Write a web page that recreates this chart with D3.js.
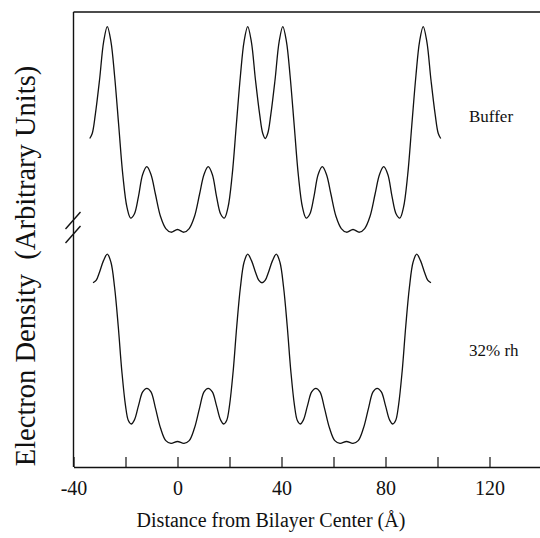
<!DOCTYPE html>
<html lang="en">
<head>
  <meta charset="UTF-8">
  <title>Electron Density Profiles</title>
  <script src="https://d3js.org/d3.v7.min.js"></script>
  <style>
    body { margin: 0; background: #fff; }
    text { font-family: "Liberation Serif", "Times New Roman", serif; fill: #111; }
  </style>
</head>
<body>
  <svg id="chart" width="540" height="538"></svg>
  <script>
    // Buffer profile (distance in Å, density in arbitrary units)
    const bufferDist = [
      -33.75, -32.8, -31.6, -30, -28.4, -27, -25.6, -24.2, -22.6, -21, -19.4, -18, -16.6, -15, -13.4, -11.8,
      -10.2, -8.5, -6.5, -4.5, -2.5, 0, 2.5, 4.5, 6.5, 8.5, 10.2, 11.8, 13.4, 15, 16.6, 18, 19.4, 21, 22.6,
      24.2, 25.6, 27, 28.4, 30, 31.6, 32.8, 33.75, 34.7, 35.9, 37.5, 39.1, 40.5, 41.9, 43.3, 44.9, 46.5,
      48.1, 49.5, 50.9, 52.5, 54.1, 55.7, 57.3, 59, 61, 63, 65, 67.5, 70, 72, 74, 76, 77.7, 79.3, 80.9,
      82.5, 84.1, 85.5, 86.9, 88.5, 90.1, 91.7, 93.1, 94.5, 95.9, 97.5, 99.1, 100.3, 101.25
    ];
    const bufferDensity = [
      72.2, 73.3, 77.5, 85, 93.5, 96.8, 93.5, 86, 75, 64, 57, 54.7, 55.6, 59.5, 64.3, 66,
      64.3, 60, 55, 52.4, 51.6, 52.2, 51.6, 52.4, 55, 60, 64.3, 66, 64.3, 59.5, 55.6, 54.7, 57, 64, 75,
      86, 93.5, 96.8, 93.5, 85, 77.5, 73.3, 72.2, 73.3, 77.5, 85, 93.5, 96.8, 93.5, 86, 75, 64,
      57, 54.7, 55.6, 59.5, 64.3, 66, 64.3, 60, 55, 52.4, 51.6, 52.2, 51.6, 52.4, 55, 60, 64.3, 66, 64.3,
      59.5, 55.6, 54.7, 57, 64, 75, 86, 93.5, 96.8, 93.5, 85, 77.5, 73.3, 72.2
    ];

    // 32% rh profile
    const rhDist = [
      -32.5, -31.3, -30, -28.5, -27, -25.6, -24.2, -22.8, -21.4, -20, -18.9, -17.8, -16.6, -15, -13.4, -11.8,
      -10.2, -8.5, -6.5, -4.5, -2.5, 0, 2.5, 4.5, 6.5, 8.5, 10.2, 11.8, 13.4, 15, 16.6, 17.8, 18.9, 20, 21.4,
      22.8, 24.2, 25.6, 27, 28.5, 30, 31.3, 32.5, 33.7, 35, 36.5, 38, 39.4, 40.8, 42.2, 43.6, 45, 46.1,
      47.2, 48.4, 50, 51.6, 53.2, 54.8, 56.5, 58.5, 60.5, 62.5, 65, 67.5, 69.5, 71.5, 73.5, 75.2, 76.8,
      78.4, 80, 81.6, 82.8, 83.9, 85, 86.4, 87.8, 89.2, 90.6, 92, 93.5, 95, 96.3, 97.5
    ];
    const rhDensity = [
      40.5, 41, 42.8, 45.3, 46.8, 45, 39.5, 31, 21, 13.5, 10.2, 9.45, 10.3, 13.5, 16.5, 17.3,
      16.5, 13, 8.5, 5.8, 5.2, 5.6, 5.2, 5.8, 8.5, 13, 16.5, 17.3, 16.5, 13.5, 10.3, 9.45, 10.2, 13.5, 21,
      31, 39.5, 45, 46.8, 45.3, 42.8, 41, 40.5, 41, 42.8, 45.3, 46.8, 45, 39.5, 31, 21, 13.5, 10.2,
      9.45, 10.3, 13.5, 16.5, 17.3, 16.5, 13, 8.5, 5.8, 5.2, 5.6, 5.2, 5.8, 8.5, 13, 16.5, 17.3,
      16.5, 13.5, 10.3, 9.45, 10.2, 13.5, 21, 31, 39.5, 45, 46.8, 45.3, 42.8, 41, 40.5
    ];

    const xTicks = [-40, -20, 0, 20, 40, 60, 80, 100, 120, 140];
    const xLabels = [-40, 0, 40, 80, 120];
    const seriesLabels = ["Buffer", "32% rh"];

    const svg = d3.select("#chart");

    const x = d3.scaleLinear().domain([-40, 140]).range([73.5, 541.5]);
    const y = d3.scaleLinear().domain([0, 100]).range([467, 12]);

    // bottom axis, ticks pointing up
    const xAxis = svg.append("g")
      .attr("transform", `translate(0,${y(0)})`)
      .call(d3.axisBottom(x)
        .tickValues(xTicks)
        .tickSizeInner(-10)
        .tickSizeOuter(0)
        .tickPadding(14)
        .tickFormat(d => xLabels.includes(d) ? d : ""));
    xAxis.select(".domain").attr("stroke", "#111").attr("stroke-width", 1.4);
    xAxis.selectAll(".tick line").attr("stroke", "#111").attr("stroke-width", 1.2);
    xAxis.selectAll(".tick text")
      .attr("font-size", 20)
      .attr("font-family", "Liberation Serif, serif")
      .attr("fill", "#111");

    // top frame line
    svg.append("line")
      .attr("x1", x(-40)).attr("x2", x(140))
      .attr("y1", y(100)).attr("y2", y(100))
      .attr("stroke", "#111").attr("stroke-width", 1.4);

    // left axis line
    svg.append("line")
      .attr("x1", x(-40)).attr("x2", x(-40))
      .attr("y1", y(0)).attr("y2", y(100))
      .attr("stroke", "#111").attr("stroke-width", 1.4);

    // axis break marks
    [[229, 212], [243, 226]].forEach(([y1, y2]) => {
      svg.append("line")
        .attr("x1", x(-40) - 8).attr("y1", y1)
        .attr("x2", x(-40) + 7).attr("y2", y2)
        .attr("stroke", "#111").attr("stroke-width", 1.4);
    });

    const line = d3.line()
      .x(d => x(d[0]))
      .y(d => y(d[1]))
      .curve(d3.curveCatmullRom.alpha(0.5));

    [[bufferDist, bufferDensity], [rhDist, rhDensity]].forEach(([xs, ys]) => {
      svg.append("path")
        .datum(xs.map((v, i) => [v, ys[i]]))
        .attr("fill", "none")
        .attr("stroke", "#111")
        .attr("stroke-width", 1.3)
        .attr("d", line);
    });

    // series labels
    svg.append("text")
      .attr("x", 469).attr("y", 122)
      .attr("font-size", 17)
      .text(seriesLabels[0]);
    svg.append("text")
      .attr("x", 469).attr("y", 356)
      .attr("font-size", 17)
      .text(seriesLabels[1]);

    // axis titles
    svg.append("text")
      .attr("x", 271).attr("y", 527)
      .attr("text-anchor", "middle")
      .attr("font-size", 20)
      .text("Distance from Bilayer Center (Å)");

    svg.append("text")
      .attr("transform", "translate(35,266) rotate(-90)")
      .attr("text-anchor", "middle")
      .attr("font-size", 28.5)
      .attr("xml:space", "preserve")
      .style("white-space", "pre")
      .text("Electron Density  (Arbitrary Units)");
  </script>
</body>
</html>
